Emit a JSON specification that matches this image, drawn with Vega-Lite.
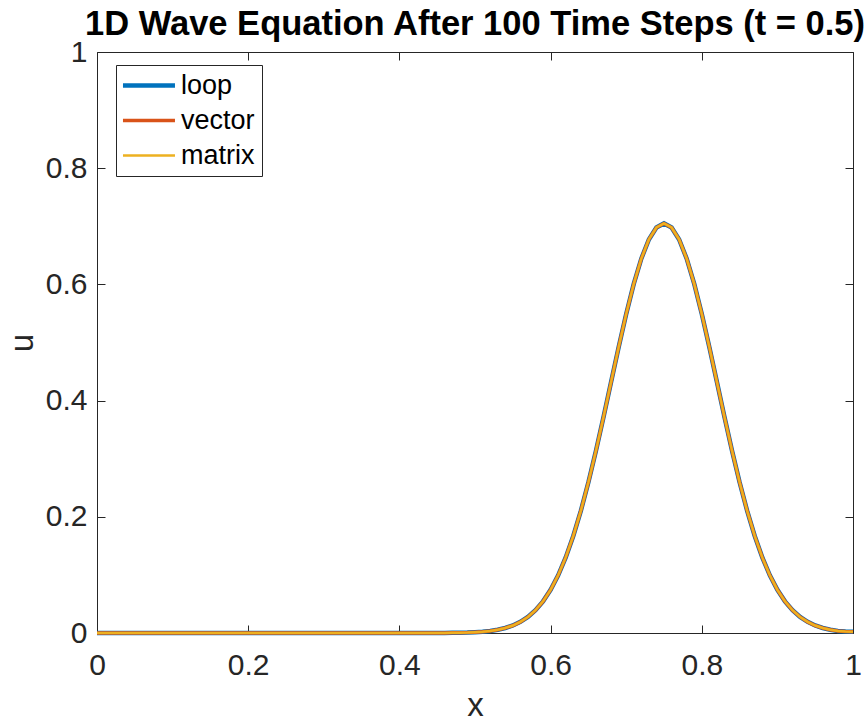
{
  "$schema": "https://vega.github.io/schema/vega-lite/v6.json",
  "width": 756,
  "height": 581,
  "autosize": {"type": "none"},
  "padding": {"left": 97, "top": 52, "right": 12, "bottom": 88},
  "background": "white",
  "title": {
    "text": "1D Wave Equation After 100 Time Steps (t = 0.5)",
    "font": "Liberation Sans",
    "fontSize": 34.5,
    "fontWeight": "bold",
    "color": "black",
    "anchor": "middle",
    "frame": "group",
    "baseline": "alphabetic",
    "offset": -32
  },
  "config": {
    "view": {"stroke": null},
    "axis": {
      "grid": false,
      "domainColor": "#262626",
      "domainWidth": 1,
      "tickColor": "#262626",
      "tickWidth": 1,
      "tickSize": -8,
      "labelFlush": false,
      "labelFont": "Liberation Sans",
      "labelFontSize": 30,
      "labelColor": "#262626",
      "titleFont": "Liberation Sans",
      "titleFontSize": 33,
      "titleFontWeight": "normal",
      "titleColor": "#262626"
    },
    "legend": {
      "orient": "none",
      "legendX": 19,
      "legendY": 13,
      "padding": 7,
      "strokeColor": "#262626",
      "fillColor": "white",
      "labelFont": "Liberation Sans",
      "labelFontSize": 27,
      "labelColor": "black",
      "symbolType": "M-2.6,0H7.4",
      "symbolSize": 108.16,
      "labelOffset": 31,
      "rowPadding": 7,
      "title": null
    }
  },
  "data": {
    "values": [
      {"x": 0.0, "loop": 0, "vector": 0, "matrix": 0},
      {"x": 0.1, "loop": 0, "vector": 0, "matrix": 0},
      {"x": 0.2, "loop": 0, "vector": 0, "matrix": 0},
      {"x": 0.3, "loop": 0, "vector": 0, "matrix": 0},
      {"x": 0.4, "loop": 0, "vector": 0, "matrix": 0},
      {"x": 0.45, "loop": 0.0001, "vector": 0.0001, "matrix": 0.0001},
      {"x": 0.46, "loop": 0.0002, "vector": 0.0002, "matrix": 0.0002},
      {"x": 0.47, "loop": 0.0003, "vector": 0.0003, "matrix": 0.0003},
      {"x": 0.48, "loop": 0.0005, "vector": 0.0005, "matrix": 0.0005},
      {"x": 0.49, "loop": 0.0008, "vector": 0.0008, "matrix": 0.0008},
      {"x": 0.50, "loop": 0.0014, "vector": 0.0014, "matrix": 0.0014},
      {"x": 0.51, "loop": 0.0022, "vector": 0.0022, "matrix": 0.0022},
      {"x": 0.52, "loop": 0.0036, "vector": 0.0036, "matrix": 0.0036},
      {"x": 0.53, "loop": 0.0056, "vector": 0.0056, "matrix": 0.0056},
      {"x": 0.54, "loop": 0.0086, "vector": 0.0086, "matrix": 0.0086},
      {"x": 0.55, "loop": 0.0129, "vector": 0.0129, "matrix": 0.0129},
      {"x": 0.56, "loop": 0.0191, "vector": 0.0191, "matrix": 0.0191},
      {"x": 0.57, "loop": 0.0276, "vector": 0.0276, "matrix": 0.0276},
      {"x": 0.58, "loop": 0.0392, "vector": 0.0392, "matrix": 0.0392},
      {"x": 0.59, "loop": 0.0545, "vector": 0.0545, "matrix": 0.0545},
      {"x": 0.60, "loop": 0.0743, "vector": 0.0743, "matrix": 0.0743},
      {"x": 0.61, "loop": 0.0993, "vector": 0.0993, "matrix": 0.0993},
      {"x": 0.62, "loop": 0.1301, "vector": 0.1301, "matrix": 0.1301},
      {"x": 0.63, "loop": 0.1670, "vector": 0.1670, "matrix": 0.1670},
      {"x": 0.64, "loop": 0.2102, "vector": 0.2102, "matrix": 0.2102},
      {"x": 0.65, "loop": 0.2594, "vector": 0.2594, "matrix": 0.2594},
      {"x": 0.66, "loop": 0.3136, "vector": 0.3136, "matrix": 0.3136},
      {"x": 0.67, "loop": 0.3717, "vector": 0.3717, "matrix": 0.3717},
      {"x": 0.68, "loop": 0.4319, "vector": 0.4319, "matrix": 0.4319},
      {"x": 0.69, "loop": 0.4919, "vector": 0.4919, "matrix": 0.4919},
      {"x": 0.70, "loop": 0.5491, "vector": 0.5491, "matrix": 0.5491},
      {"x": 0.71, "loop": 0.6008, "vector": 0.6008, "matrix": 0.6008},
      {"x": 0.72, "loop": 0.6443, "vector": 0.6443, "matrix": 0.6443},
      {"x": 0.73, "loop": 0.6774, "vector": 0.6774, "matrix": 0.6774},
      {"x": 0.74, "loop": 0.6980, "vector": 0.6980, "matrix": 0.6980},
      {"x": 0.75, "loop": 0.7050, "vector": 0.7050, "matrix": 0.7050},
      {"x": 0.76, "loop": 0.6980, "vector": 0.6980, "matrix": 0.6980},
      {"x": 0.77, "loop": 0.6774, "vector": 0.6774, "matrix": 0.6774},
      {"x": 0.78, "loop": 0.6443, "vector": 0.6443, "matrix": 0.6443},
      {"x": 0.79, "loop": 0.6008, "vector": 0.6008, "matrix": 0.6008},
      {"x": 0.80, "loop": 0.5491, "vector": 0.5491, "matrix": 0.5491},
      {"x": 0.81, "loop": 0.4919, "vector": 0.4919, "matrix": 0.4919},
      {"x": 0.82, "loop": 0.4319, "vector": 0.4319, "matrix": 0.4319},
      {"x": 0.83, "loop": 0.3717, "vector": 0.3717, "matrix": 0.3717},
      {"x": 0.84, "loop": 0.3136, "vector": 0.3136, "matrix": 0.3136},
      {"x": 0.85, "loop": 0.2594, "vector": 0.2594, "matrix": 0.2594},
      {"x": 0.86, "loop": 0.2102, "vector": 0.2102, "matrix": 0.2102},
      {"x": 0.87, "loop": 0.1670, "vector": 0.1670, "matrix": 0.1670},
      {"x": 0.88, "loop": 0.1301, "vector": 0.1301, "matrix": 0.1301},
      {"x": 0.89, "loop": 0.0993, "vector": 0.0993, "matrix": 0.0993},
      {"x": 0.90, "loop": 0.0743, "vector": 0.0743, "matrix": 0.0743},
      {"x": 0.91, "loop": 0.0545, "vector": 0.0545, "matrix": 0.0545},
      {"x": 0.92, "loop": 0.0392, "vector": 0.0392, "matrix": 0.0392},
      {"x": 0.93, "loop": 0.0276, "vector": 0.0276, "matrix": 0.0276},
      {"x": 0.94, "loop": 0.0191, "vector": 0.0191, "matrix": 0.0191},
      {"x": 0.95, "loop": 0.0129, "vector": 0.0129, "matrix": 0.0129},
      {"x": 0.96, "loop": 0.0086, "vector": 0.0086, "matrix": 0.0086},
      {"x": 0.97, "loop": 0.0056, "vector": 0.0056, "matrix": 0.0056},
      {"x": 0.98, "loop": 0.0036, "vector": 0.0036, "matrix": 0.0036},
      {"x": 0.99, "loop": 0.0025, "vector": 0.0025, "matrix": 0.0025},
      {"x": 1.00, "loop": 0.0020, "vector": 0.0020, "matrix": 0.0020}
    ]
  },
  "transform": [{"fold": ["loop", "vector", "matrix"], "as": ["method", "u"]}],
  "layer": [
    {
      "mark": {"type": "line"},
      "encoding": {
        "x": {
          "field": "x", "type": "quantitative",
          "scale": {"domain": [0, 1], "nice": false, "zero": false},
          "axis": {"orient": "bottom", "values": [0, 0.2, 0.4, 0.6, 0.8, 1], "format": "~g", "title": "x", "labelPadding": 25, "titlePadding": 9}
        },
        "y": {
          "field": "u", "type": "quantitative",
          "scale": {"domain": [0, 1], "nice": false},
          "axis": {"orient": "left", "values": [0, 0.2, 0.4, 0.6, 0.8, 1], "format": "~g", "title": "u", "labelPadding": 18, "titlePadding": 6}
        },
        "color": {
          "field": "method", "type": "nominal",
          "scale": {"domain": ["loop", "vector", "matrix"], "range": ["#0072BD", "#D95319", "#EDB120"]}
        },
        "strokeWidth": {
          "field": "method", "type": "ordinal",
          "scale": {"domain": ["loop", "vector", "matrix"], "range": [4.5, 2.5, 1]}
        }
      }
    },
    {
      "mark": {"type": "line", "strokeOpacity": 0},
      "encoding": {
        "x": {
          "field": "x", "type": "quantitative",
          "axis": {"orient": "top", "values": [0, 0.2, 0.4, 0.6, 0.8, 1], "labels": false, "title": null}
        },
        "y": {
          "field": "u", "type": "quantitative",
          "axis": {"orient": "right", "values": [0, 0.2, 0.4, 0.6, 0.8, 1], "labels": false, "title": null}
        }
      }
    }
  ],
  "resolve": {"axis": {"x": "independent", "y": "independent"}}
}
